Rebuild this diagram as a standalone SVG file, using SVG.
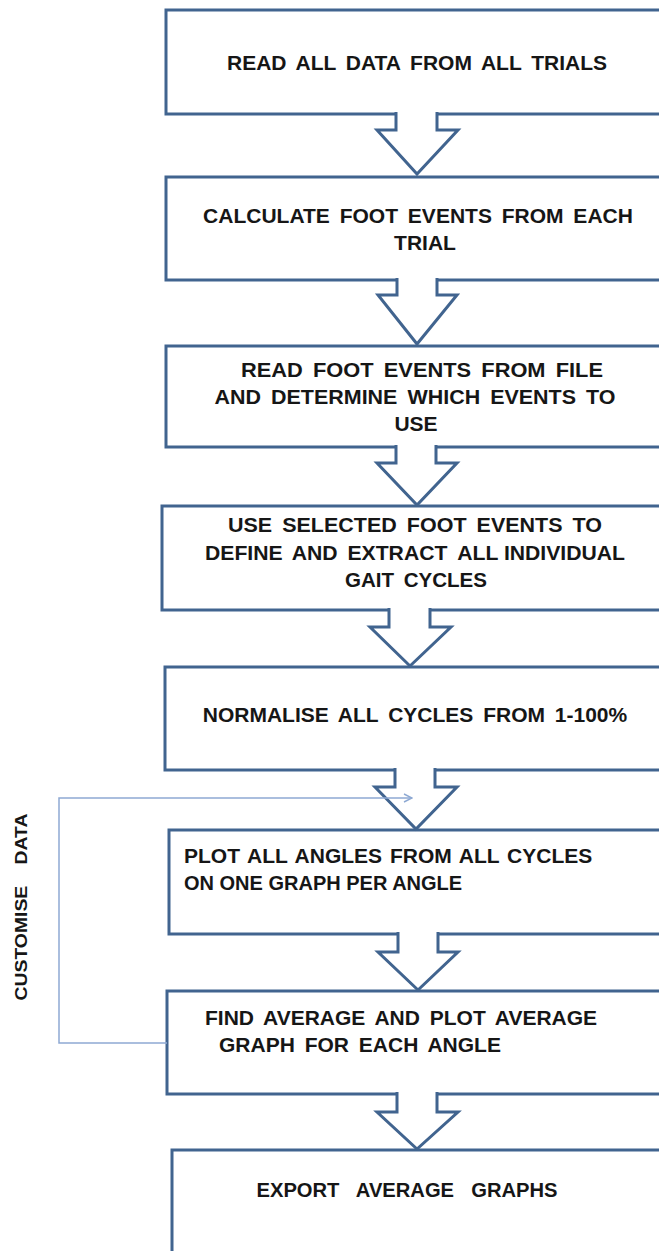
<svg xmlns="http://www.w3.org/2000/svg" width="659" height="1251" viewBox="0 0 659 1251">
  <style>
    .box { fill: #ffffff; stroke: #41648f; stroke-width: 3; }
    .step { fill: #ffffff; stroke: #41648f; stroke-width: 3; stroke-linejoin: miter; }
    .label { font-family: "Liberation Sans", Arial, sans-serif; font-weight: bold; font-size: 21px; word-spacing: 4px; fill: #161616; }
    .mid { text-anchor: middle; }
    .loop { fill: none; stroke: #8ea9d3; stroke-width: 1.5; }
  </style>
  <defs>
    <marker id="open" viewBox="0 0 10 10" refX="9" refY="5" markerWidth="10" markerHeight="10" markerUnits="userSpaceOnUse" orient="auto">
      <path d="M1,1 L9,5 L1,9" fill="none" stroke="#8ea9d3" stroke-width="1.4"/>
    </marker>
  </defs>
  <rect width="659" height="1251" fill="#ffffff"/>

  <!-- process boxes (they run off the right edge) -->
  <g id="read-data">
    <rect class="box" x="166" y="10" width="520" height="104"/>
    <text class="label mid" x="417" y="70" textLength="380" lengthAdjust="spacingAndGlyphs">READ ALL DATA FROM ALL TRIALS</text>
  </g>
  <g id="foot-events">
    <rect class="box" x="166" y="177" width="520" height="103"/>
    <text class="label mid" x="418" y="223">CALCULATE FOOT EVENTS FROM EACH</text>
    <text class="label mid" x="425" y="250">TRIAL</text>
  </g>
  <g id="select-events">
    <rect class="box" x="166" y="346" width="520" height="101"/>
    <text class="label mid" x="422" y="377" textLength="362" lengthAdjust="spacingAndGlyphs">READ FOOT EVENTS FROM FILE</text>
    <text class="label mid" x="415" y="404" textLength="401" lengthAdjust="spacingAndGlyphs">AND DETERMINE WHICH EVENTS TO</text>
    <text class="label mid" x="416" y="431">USE</text>
  </g>
  <g id="extract-cycles">
    <rect class="box" x="162" y="506" width="524" height="104"/>
    <text class="label mid" x="415" y="532" textLength="374" lengthAdjust="spacingAndGlyphs">USE SELECTED FOOT EVENTS TO</text>
    <text class="label mid" x="415" y="560" textLength="420" lengthAdjust="spacingAndGlyphs">DEFINE AND EXTRACT <tspan style="word-spacing:0">ALL INDIVIDUAL</tspan></text>
    <text class="label mid" x="416" y="587" textLength="142" lengthAdjust="spacingAndGlyphs">GAIT CYCLES</text>
  </g>
  <g id="normalise">
    <rect class="box" x="165" y="667" width="521" height="103"/>
    <text class="label mid" x="415" y="722">NORMALISE ALL CYCLES FROM 1-100%</text>
  </g>
  <g id="plot-angles">
    <rect class="box" x="169" y="830" width="517" height="104"/>
    <text class="label" x="184" y="863" style="word-spacing:2px">PLOT ALL ANGLES FROM ALL CYCLES</text>
    <text class="label" x="184" y="890" style="font-size:20px;word-spacing:0">ON ONE GRAPH PER ANGLE</text>
  </g>
  <g id="average">
    <rect class="box" x="167" y="991" width="519" height="103"/>
    <text class="label" x="205" y="1025">FIND AVERAGE AND PLOT AVERAGE</text>
    <text class="label" x="219" y="1052">GRAPH FOR EACH ANGLE</text>
  </g>
  <g id="export">
    <rect class="box" x="172" y="1150" width="514" height="130"/>
    <text class="label mid" x="407" y="1197" textLength="301" lengthAdjust="spacingAndGlyphs" style="word-spacing:12px">EXPORT AVERAGE GRAPHS</text>
  </g>

  <!-- block arrows between the steps, plus the customise loop -->
  <g id="connectors">
    <path class="step" d="M396,112 V130 H377 L417,174 L458,130 H437 V112"/>
    <path class="step" d="M397,278 V295 H378 L417,344 L457,295 H437 V278"/>
    <path class="step" d="M396,445 V463 H377 L417,505 L457,463 H436 V445"/>
    <path class="step" d="M389,608 V627 H370 L410,666 L451,627 H430 V608"/>
    <path class="step" d="M395,768 V787 H375 L416,829 L457,787 H435 V768"/>
    <path class="step" d="M398,932 V952 H378 L418,990 L458,952 H438 V932"/>
    <path class="step" d="M397,1092 V1112 H377 L417,1149 L458,1112 H437 V1092"/>
    <path class="loop" d="M167,1043 H59 V798 H412" marker-end="url(#open)"/>
  </g>

  <text class="label" transform="translate(27,907) rotate(-90)" text-anchor="middle" style="font-size:17px;word-spacing:14px" textLength="187" lengthAdjust="spacingAndGlyphs">CUSTOMISE DATA</text>
</svg>
